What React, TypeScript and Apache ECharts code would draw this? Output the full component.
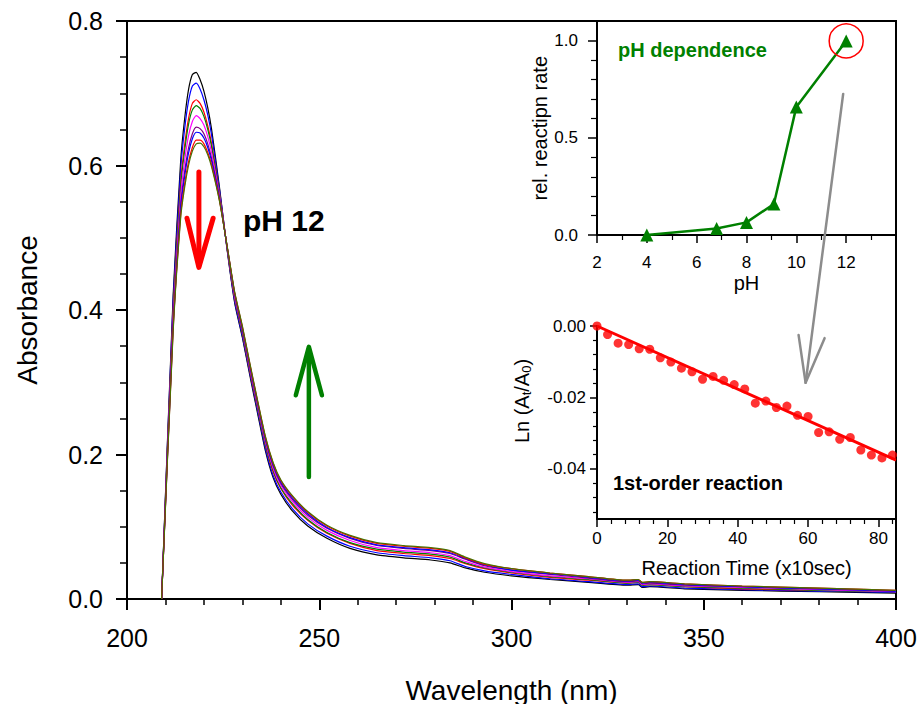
import React, { useEffect, useRef } from 'react';
import * as echarts from 'echarts';

const FONT = 'Liberation Sans, Arial, sans-serif';

// ---- main spectra ----
const wavelengths = [209, 212, 214, 215, 216, 217, 218, 219, 220, 221, 222, 224, 226, 228, 230, 232, 234, 236, 238, 240, 243, 247, 252, 258, 265, 272, 279, 284, 288, 293, 300, 310, 320, 330, 333, 334, 336, 345, 360, 380, 400];

const spec0 = [0, 0.42, 0.61, 0.665, 0.705, 0.726, 0.729, 0.719, 0.703, 0.680, 0.650, 0.572, 0.485, 0.410, 0.362, 0.308, 0.256, 0.205, 0.168, 0.145, 0.122, 0.101, 0.084, 0.070, 0.061, 0.057, 0.054, 0.050, 0.043, 0.037, 0.032, 0.027, 0.023, 0.019, 0.020, 0.016, 0.017, 0.014, 0.012, 0.010, 0.008];
const spec1 = [0, 0.413, 0.598, 0.651, 0.689, 0.710, 0.714, 0.706, 0.691, 0.670, 0.642, 0.569, 0.486, 0.412, 0.364, 0.311, 0.259, 0.208, 0.171, 0.148, 0.125, 0.104, 0.087, 0.073, 0.064, 0.060, 0.057, 0.053, 0.045, 0.039, 0.034, 0.028, 0.024, 0.020, 0.021, 0.017, 0.018, 0.015, 0.013, 0.011, 0.009];
const spec2 = [0, 0.401, 0.580, 0.629, 0.665, 0.686, 0.691, 0.686, 0.674, 0.655, 0.630, 0.564, 0.487, 0.416, 0.368, 0.314, 0.263, 0.213, 0.176, 0.153, 0.130, 0.109, 0.091, 0.077, 0.067, 0.063, 0.060, 0.056, 0.049, 0.042, 0.036, 0.030, 0.026, 0.022, 0.023, 0.019, 0.020, 0.017, 0.014, 0.012, 0.010];
const spec3 = [0, 0.397, 0.573, 0.621, 0.657, 0.677, 0.683, 0.679, 0.668, 0.650, 0.626, 0.563, 0.487, 0.417, 0.369, 0.316, 0.264, 0.214, 0.178, 0.154, 0.132, 0.110, 0.092, 0.078, 0.069, 0.065, 0.062, 0.058, 0.050, 0.043, 0.037, 0.031, 0.027, 0.022, 0.023, 0.019, 0.020, 0.017, 0.015, 0.012, 0.010];
const spec4 = [0, 0.390, 0.561, 0.607, 0.641, 0.661, 0.669, 0.665, 0.656, 0.640, 0.618, 0.560, 0.488, 0.419, 0.372, 0.318, 0.267, 0.217, 0.181, 0.157, 0.135, 0.113, 0.095, 0.081, 0.071, 0.067, 0.064, 0.060, 0.052, 0.044, 0.038, 0.032, 0.028, 0.023, 0.024, 0.020, 0.021, 0.018, 0.016, 0.013, 0.010];
const spec5 = [0, 0.382, 0.548, 0.592, 0.624, 0.644, 0.653, 0.651, 0.644, 0.630, 0.610, 0.557, 0.489, 0.422, 0.374, 0.321, 0.270, 0.220, 0.184, 0.160, 0.138, 0.116, 0.098, 0.084, 0.074, 0.070, 0.067, 0.063, 0.055, 0.046, 0.040, 0.034, 0.029, 0.024, 0.025, 0.021, 0.022, 0.019, 0.017, 0.014, 0.011];
const spec6 = [0, 0.378, 0.543, 0.585, 0.617, 0.637, 0.646, 0.645, 0.638, 0.625, 0.606, 0.555, 0.489, 0.423, 0.375, 0.322, 0.271, 0.222, 0.186, 0.162, 0.140, 0.118, 0.099, 0.085, 0.075, 0.071, 0.068, 0.064, 0.056, 0.047, 0.040, 0.035, 0.030, 0.025, 0.026, 0.022, 0.023, 0.020, 0.017, 0.014, 0.011];
const spec7 = [0, 0.373, 0.534, 0.575, 0.605, 0.625, 0.635, 0.635, 0.630, 0.618, 0.601, 0.553, 0.490, 0.424, 0.377, 0.324, 0.273, 0.224, 0.188, 0.164, 0.142, 0.120, 0.101, 0.087, 0.077, 0.073, 0.070, 0.066, 0.057, 0.048, 0.042, 0.036, 0.031, 0.026, 0.027, 0.023, 0.024, 0.021, 0.018, 0.015, 0.012];
const spec8 = [0, 0.37, 0.53, 0.57, 0.60, 0.62, 0.630, 0.631, 0.626, 0.615, 0.598, 0.552, 0.490, 0.425, 0.378, 0.325, 0.274, 0.225, 0.189, 0.165, 0.143, 0.121, 0.102, 0.088, 0.078, 0.074, 0.071, 0.067, 0.058, 0.049, 0.042, 0.036, 0.031, 0.026, 0.027, 0.023, 0.024, 0.021, 0.018, 0.015, 0.012];

const spectra = [spec0, spec1, spec2, spec3, spec4, spec5, spec6, spec7, spec8];
const spectraColors = ['#000000', '#0000ff', '#ff0000', '#008000', '#ff00ff', '#800080', '#0000ff', '#ff0000', '#4a7000'];

// arrows in main plot (wavelength, absorbance)
const redArrowShaft = [[218.7, 0.591], [218.7, 0.462]];
const redArrowHead = [[215.6, 0.527], [218.7, 0.459], [222.4, 0.527]];
const greenArrowShaft = [[247.3, 0.169], [247.3, 0.346]];
const greenArrowHead = [[243.9, 0.282], [247.3, 0.349], [250.7, 0.282]];

// ---- inset 1: pH dependence ----
const phValues = [4, 6.8, 8, 9.1, 10, 12];
const relRate = [0, 0.033, 0.065, 0.16, 0.66, 1.0];
const phMajorTicks = [0, 0.5, 1.0];
const phMinorTicks = [0.1, 0.2, 0.3, 0.4, 0.6, 0.7, 0.8, 0.9];

// ---- inset 2: kinetics ----
const times = [0, 3, 6, 9, 12, 15, 18, 21, 24, 27, 30, 33, 36, 39, 42, 45, 48, 51, 54, 57, 60, 63, 66, 69, 72, 75, 78, 81, 84];
const lnRatio = [0, -0.0024, -0.0048, -0.0052, -0.0064, -0.0065, -0.0089, -0.0101, -0.0118, -0.0128, -0.0149, -0.0141, -0.0152, -0.0164, -0.0176, -0.0216, -0.0210, -0.0228, -0.0224, -0.0250, -0.0253, -0.0298, -0.0296, -0.0317, -0.0312, -0.0347, -0.0361, -0.0369, -0.0361];
const fitLine = [[0, 0], [85, -0.0375]];
const timeMajorTicks = [0, 20, 40, 60, 80];
const timeMinorTicks = [4, 8, 12, 16, 24, 28, 32, 36, 44, 48, 52, 56, 64, 68, 72, 76, 84];
const lnMajorTicks = [0, -0.02, -0.04];
const lnMinorTicks = [-0.004, -0.008, -0.012, -0.016, -0.024, -0.028, -0.032, -0.036, -0.044, -0.048, -0.052];

// gray arrow endpoints: start in pH inset coords, tip/wings in kinetics inset coords
const grayStart = [11.88, 0.727];
const grayTip = [59.3, -0.0159];
const grayWingL = [57.3, -0.0025];
const grayWingR = [64.7, -0.0034];
const circledPoint = [12, 1.0];

const black = '#000';
const axisLine = { show: true, onZero: false, lineStyle: { color: black, width: 2 } };

export default function App() {
  const ref = useRef<HTMLDivElement>(null);
  useEffect(() => {
    const chart = echarts.init(ref.current!, null, { renderer: 'svg' });
    const option: any = {
      animation: false,
      backgroundColor: '#fff',
      textStyle: { fontFamily: FONT },
      grid: [
        { left: 127, top: 21, width: 769, height: 578, show: true, borderColor: black, borderWidth: 2, backgroundColor: 'transparent', outerBoundsMode: 'none', containLabel: false },
        { left: 597, top: 21.5, width: 299, height: 213.5, outerBoundsMode: 'none', containLabel: false },
        { left: 597, top: 326, width: 299, height: 193, outerBoundsMode: 'none', containLabel: false },
      ],
      xAxis: [
        {
          type: 'value', gridIndex: 0, min: 200, max: 400, interval: 50,
          axisLine,
          axisTick: { show: true, length: 11, lineStyle: { color: black, width: 2 } },
          minorTick: { show: true, splitNumber: 5, length: 6, lineStyle: { color: black, width: 1.5 } },
          axisLabel: { fontSize: 25, color: black, margin: 26, fontFamily: FONT },
          splitLine: { show: false },
          name: 'Wavelength (nm)', nameLocation: 'middle', nameGap: 77,
          nameTextStyle: { fontSize: 28, color: black, fontFamily: FONT },
        },
        {
          type: 'value', gridIndex: 1, min: 2, max: 14, interval: 2,
          axisLine,
          axisTick: { show: true, length: 8, lineStyle: { color: black, width: 1.5 } },
          minorTick: { show: true, splitNumber: 2, length: 5, lineStyle: { color: black, width: 1.2 } },
          axisLabel: { fontSize: 17, color: black, margin: 19, showMaxLabel: false, fontFamily: FONT },
          splitLine: { show: false },
          name: 'pH', nameLocation: 'middle', nameGap: 38,
          nameTextStyle: { fontSize: 20, color: black, fontFamily: FONT },
        },
        {
          type: 'value', gridIndex: 2, min: 0, max: 85,
          axisLine,
          axisTick: { show: true, length: 8, customValues: timeMajorTicks, lineStyle: { color: black, width: 1.5 } },
          axisLabel: { fontSize: 17, color: black, margin: 11, customValues: timeMajorTicks, fontFamily: FONT },
          splitLine: { show: false },
          name: 'Reaction Time (x10sec)', nameLocation: 'middle', nameGap: 39,
          nameTextStyle: { fontSize: 20, color: black, fontFamily: FONT },
        },
        {
          type: 'value', gridIndex: 2, min: 0, max: 85, position: 'bottom',
          axisLine: { show: false, onZero: false },
          axisTick: { show: true, length: 5, customValues: timeMinorTicks, lineStyle: { color: black, width: 1.2 } },
          axisLabel: { show: false },
          splitLine: { show: false },
        },
      ],
      yAxis: [
        {
          type: 'value', gridIndex: 0, min: 0, max: 0.8, interval: 0.2,
          axisLine,
          axisTick: { show: true, length: 11, lineStyle: { color: black, width: 2 } },
          minorTick: { show: true, splitNumber: 4, length: 7, lineStyle: { color: black, width: 1.5 } },
          axisLabel: { fontSize: 25, color: black, margin: 24, formatter: (v: number) => v.toFixed(1), fontFamily: FONT },
          splitLine: { show: false },
          name: 'Absorbance', nameLocation: 'middle', nameGap: 86,
          nameTextStyle: { fontSize: 28, color: black, fontFamily: FONT },
        },
        {
          type: 'value', gridIndex: 1, min: 0, max: 1.1, position: 'left',
          axisLine,
          axisTick: { show: true, length: 9, customValues: phMajorTicks, lineStyle: { color: black, width: 1.5 } },
          axisLabel: { fontSize: 17, color: black, margin: 19, customValues: phMajorTicks, formatter: (v: number) => v.toFixed(1), fontFamily: FONT },
          splitLine: { show: false },
          name: 'rel. reactipn rate', nameLocation: 'middle', nameGap: 45,
          nameTextStyle: { fontSize: 20, color: black, fontFamily: FONT },
        },
        {
          type: 'value', gridIndex: 1, min: 0, max: 1.1, position: 'left',
          axisLine: { show: false, onZero: false },
          axisTick: { show: true, length: 6, customValues: phMinorTicks, lineStyle: { color: black, width: 1.2 } },
          axisLabel: { show: false },
          splitLine: { show: false },
        },
        {
          type: 'value', gridIndex: 2, min: -0.054, max: 0, position: 'left',
          axisLine,
          axisTick: { show: true, length: 7, customValues: lnMajorTicks, lineStyle: { color: black, width: 1.5 } },
          axisLabel: { fontSize: 17, color: black, margin: 11, customValues: lnMajorTicks, formatter: (v: number) => v.toFixed(2), fontFamily: FONT },
          splitLine: { show: false },
          name: 'Ln (A{s|t}/A{s|0})', nameLocation: 'middle', nameGap: 64,
          nameTextStyle: {
            fontSize: 20, color: black, fontFamily: FONT, padding: [0, 0, 0, 43],
            rich: { s: { fontSize: 13, color: black, fontFamily: FONT, padding: [10, 0, 0, 0] } },
          },
        },
        {
          type: 'value', gridIndex: 2, min: -0.054, max: 0, position: 'left',
          axisLine: { show: false, onZero: false },
          axisTick: { show: true, length: 4, customValues: lnMinorTicks, lineStyle: { color: black, width: 1.2 } },
          axisLabel: { show: false },
          splitLine: { show: false },
        },
      ],
      series: [
        ...spectra.map((s, k) => ({
          type: 'line', xAxisIndex: 0, yAxisIndex: 0,
          data: wavelengths.map((w, i) => [w, s[i]]),
          showSymbol: false, symbol: 'none', smooth: 0.2,
          lineStyle: { color: spectraColors[k], width: 1.2 },
          z: 2,
        })),
        ...[
          [redArrowShaft, '#ff0000', 5], [redArrowHead, '#ff0000', 5],
          [greenArrowShaft, '#008000', 4.5], [greenArrowHead, '#008000', 4.5],
        ].map(([d, c, w]) => ({
          type: 'line', xAxisIndex: 0, yAxisIndex: 0, data: d, symbol: 'none',
          lineStyle: { color: c, width: w, cap: 'round', join: 'round' }, z: 5,
        })),
        {
          type: 'line', xAxisIndex: 1, yAxisIndex: 1,
          data: phValues.map((p, i) => [p, relRate[i]]),
          symbol: 'triangle', symbolSize: 13, clip: false,
          itemStyle: { color: '#008000' },
          lineStyle: { color: '#008000', width: 2.5 }, z: 5,
        },
        {
          type: 'line', xAxisIndex: 2, yAxisIndex: 3, data: fitLine, symbol: 'none',
          lineStyle: { color: '#ff0000', width: 3 }, z: 5,
        },
        {
          type: 'scatter', xAxisIndex: 2, yAxisIndex: 3,
          data: times.map((t, i) => [t, lnRatio[i]]),
          symbol: 'circle', symbolSize: 9, clip: false,
          itemStyle: { color: '#ff0000' }, z: 6,
        },
      ],
    };
    chart.setOption(option);

    const px1 = (pt: number[]) => chart.convertToPixel({ xAxisIndex: 1, yAxisIndex: 1 }, pt) as number[];
    const px2 = (pt: number[]) => chart.convertToPixel({ xAxisIndex: 2, yAxisIndex: 3 }, pt) as number[];
    const s = px1(grayStart);
    const t = px2(grayTip);
    const wl = px2(grayWingL);
    const wr = px2(grayWingR);
    const c = px1(circledPoint);
    const gray = { stroke: '#8c8c8c', lineWidth: 2.5, lineCap: 'round', fill: null };

    chart.setOption({
      graphic: [
        { type: 'line', shape: { x1: s[0], y1: s[1], x2: t[0], y2: t[1] }, style: gray, z: 10 },
        { type: 'polyline', shape: { points: [wl, t, wr] }, style: { ...gray, lineJoin: 'round' }, z: 10 },
        { type: 'circle', shape: { cx: c[0], cy: c[1], r: 17 }, style: { stroke: '#ff0000', lineWidth: 1.5, fill: null }, z: 10 },
        { type: 'text', x: 243, y: 220, style: { text: 'pH 12', font: `bold 30px ${FONT}`, fill: black, textVerticalAlign: 'middle' }, z: 10 },
        { type: 'text', x: 618, y: 50, style: { text: 'pH dependence', font: `bold 20px ${FONT}`, fill: '#008000', textVerticalAlign: 'middle' }, z: 10 },
        { type: 'text', x: 613, y: 483, style: { text: '1st-order reaction', font: `bold 20px ${FONT}`, fill: black, textVerticalAlign: 'middle' }, z: 10 },
      ],
    });

    return () => chart.dispose();
  }, []);
  return <div ref={ref} style={{ position: 'fixed', left: 0, top: 0, width: 922, height: 704 }} />;
}
